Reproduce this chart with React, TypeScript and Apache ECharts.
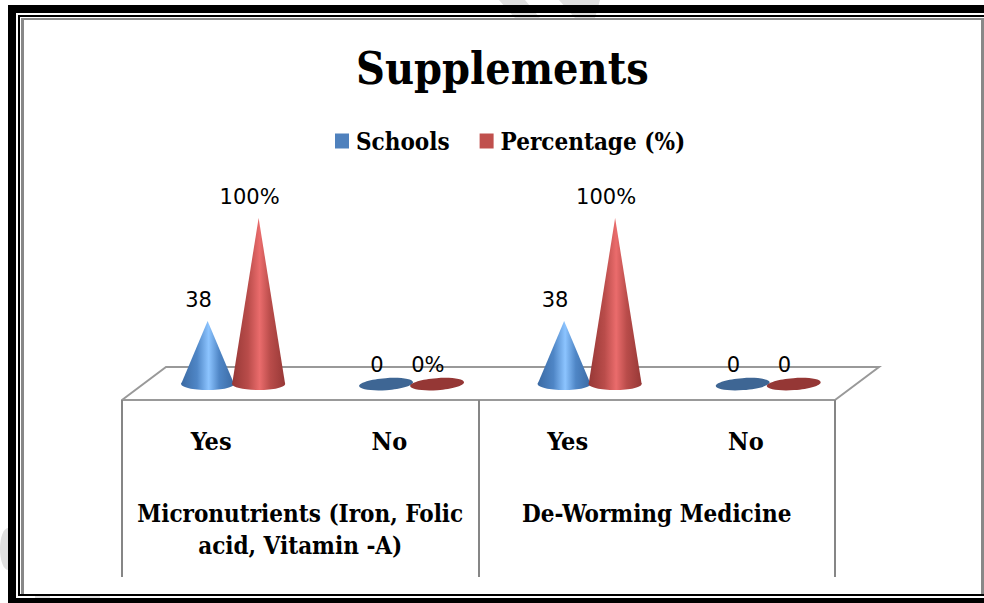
import React, { useEffect, useRef } from "react";
import * as echarts from "echarts";

const categories = ["Yes", "No", "Yes", "No"];
const groups = ["Micronutrients (Iron, Folic\nacid, Vitamin -A)", "De-Worming Medicine"];
const schools = [38, 0, 38, 0];
const percentage = [100, 0, 100, 0];
const schoolLabels = ["38", "0", "38", "0"];
const percentageLabels = ["100%", "0%", "100%", "0"];

const SERIF = "'DejaVu Serif Condensed', 'Liberation Serif', serif";
const SANS = "'DejaVu Sans', sans-serif";
const gradient = (edge: string, shade: string, mid: string) => ({
  type: "linear", x: 0, y: 0, x2: 1, y2: 0,
  colorStops: [
    { offset: 0, color: edge },
    { offset: 0.3, color: shade },
    { offset: 0.52, color: mid },
    { offset: 0.72, color: shade },
    { offset: 1, color: edge },
  ],
});

function coneRenderer(dx: number, labels: string[], grad: any, flat: string) {
  return (params: any, api: any) => {
    const i = api.value(0);
    const v = api.value(1);
    const base = api.coord([i, 0]);
    const top = api.coord([i, v]);
    const cx = base[0] + 22 + dx;
    const by = base[1] - 16;
    const ty = top[1] - 16;
    const rx = 26.5;
    const children: any[] = [];
    if (v > 0) {
      children.push({ type: "ellipse", shape: { cx, cy: by, rx, ry: 6 }, style: { fill: grad } });
      children.push({
        type: "polygon",
        shape: { points: [[cx, ty], [cx + rx, by], [cx - rx, by]] },
        style: { fill: grad },
      });
    } else {
      children.push({
        type: "ellipse",
        originX: cx, originY: by,
        rotation: 0.07,
        shape: { cx, cy: by, rx: 27, ry: 6 },
        style: { fill: flat },
      });
    }
    children.push({
      type: "text",
      style: {
        text: labels[params.dataIndex],
        x: cx - 9,
        y: ty - (v > 0 ? 21 : 19),
        fill: "#000",
        font: `21px ${SANS}`,
        align: "center",
        verticalAlign: "middle",
      },
    });
    return { type: "group", children };
  };
}

export default function App() {
  const ref = useRef<HTMLDivElement>(null);
  useEffect(() => {
    document.body.style.margin = "0";
    const chart = echarts.init(ref.current!, null, { renderer: "svg" });
    const bar = (x: number, y: number, width: number, height: number, fill: string) => ({
      type: "rect", shape: { x, y, width, height }, style: { fill }, silent: true,
    });
    const WATERMARK = "#e0e0e0";
    chart.setOption({
      animation: false,
      backgroundColor: "#fff",
      title: {
        text: "Supplements",
        left: 351, top: 40,
        textStyle: { fontFamily: SERIF, fontWeight: "bold", fontSize: 44.5, color: "#000" },
      },
      legend: {
        left: 330, top: 124, itemWidth: 14, itemHeight: 15, itemGap: 30, icon: "rect",
        data: [
          { name: "Schools", itemStyle: { color: "#4f81bd" } },
          { name: "Percentage (%)", itemStyle: { color: "#c0504d" } },
        ],
        textStyle: { fontFamily: SERIF, fontWeight: "bold", fontSize: 24, color: "#000", padding: [0, 0, 0, 2] },
      },
      grid: { left: 122, width: 713, top: 234, height: 166 },
      xAxis: [
        {
          type: "category", data: categories,
          axisLine: { show: true, lineStyle: { color: "#999", width: 2 } },
          axisTick: { show: false },
          axisLabel: { color: "#000", fontFamily: SERIF, fontWeight: "bold", fontSize: 25, margin: 29, interval: 0 },
        },
        {
          type: "category", position: "bottom", data: groups,
          axisLine: { show: false },
          axisTick: { show: true, length: 177, interval: 0, lineStyle: { color: "#868686", width: 2 } },
          axisLabel: {
            color: "#000", fontFamily: SERIF, fontWeight: "bold", fontSize: 24, lineHeight: 32,
            margin: 97, interval: 0, verticalAlign: "top",
          },
        },
      ],
      yAxis: { type: "value", min: 0, max: 100, show: false, splitLine: { show: false } },
      series: [
        {
          name: "Schools", type: "custom", xAxisIndex: 0, z: 3,
          itemStyle: { color: "#4f81bd" },
          encode: { x: 0, y: 1 },
          data: categories.map((_, i) => [i, schools[i]]),
          renderItem: coneRenderer(-25.5, schoolLabels, gradient("#3b6aa3", "#4f86c6", "#8cc4ff"), "#3e6694"),
        },
        {
          name: "Percentage (%)", type: "custom", xAxisIndex: 0, z: 4,
          itemStyle: { color: "#c0504d" },
          encode: { x: 0, y: 1 },
          data: categories.map((_, i) => [i, percentage[i]]),
          renderItem: coneRenderer(25.5, percentageLabels, gradient("#963836", "#b94c4a", "#ea6c6c"), "#953735"),
        },
      ],
      graphic: [
        { type: "polygon", silent: true, shape: { points: [[499, 0], [525, 0], [540, 18], [515, 18]] }, style: { fill: WATERMARK } },
        { type: "polygon", silent: true, shape: { points: [[559, 0], [600, 0], [595, 18], [575, 18]] }, style: { fill: WATERMARK } },
        { type: "ellipse", silent: true, shape: { cx: 8, cy: 549, rx: 8, ry: 21 }, style: { fill: WATERMARK } },
        bar(35, 596, 15, 2, WATERMARK),
        bar(80, 596, 20, 2, WATERMARK),
        bar(8, 5, 976, 8, "#000"),
        bar(8, 5, 8, 598, "#000"),
        bar(8, 598, 976, 5, "#000"),
        bar(18, 15, 966, 2, "#000"),
        bar(18, 15, 2, 581, "#000"),
        bar(18, 594, 966, 2, "#000"),
        bar(21, 18, 963, 2, "#888"),
        bar(21, 18, 3, 576, "#888"),
        bar(981, 18, 3, 576, "#888"),
        {
          type: "polyline", silent: true,
          shape: { points: [[122, 400], [166, 367], [879, 367], [835, 400]] },
          style: { stroke: "#999", lineWidth: 2, fill: "none" },
        },
      ],
    });
    return () => chart.dispose();
  }, []);
  return <div ref={ref} style={{ position: "absolute", left: 0, top: 0, width: 984, height: 603 }} />;
}
